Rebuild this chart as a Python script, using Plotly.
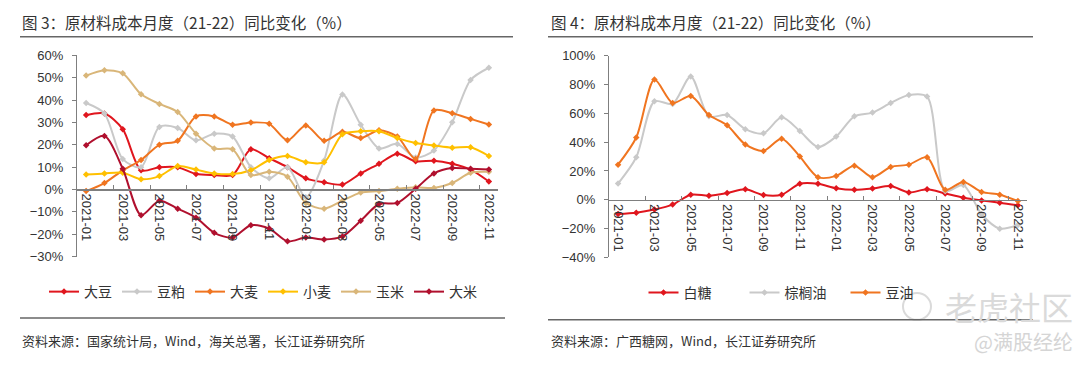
import plotly.graph_objects as go

months = ["2021-01", "2021-02", "2021-03", "2021-04", "2021-05", "2021-06", "2021-07", "2021-08",
          "2021-09", "2021-10", "2021-11", "2021-12", "2022-01", "2022-02", "2022-03", "2022-04",
          "2022-05", "2022-06", "2022-07", "2022-08", "2022-09", "2022-10", "2022-11"]
tick_labels = months[::2]

# Left chart (%)
soybean = [33.3, 34, 27, 8.6, 10, 10, 6.9, 6.5, 6.5, 18, 14, 10, 5, 3.2, 2.2, 7.2, 11.5, 16, 12.6, 12.9, 11.5, 8.9, 3.6]
soymeal = [38.7, 34, 13.6, 10, 28, 27.5, 22, 25, 23.7, 10, 5, 10, -3.5, 13, 42.5, 29, 18.4, 20.4, 14.3, 17.5, 30.1, 49, 54.5]
barley = [-0.7, 2.9, 8.6, 13.2, 20, 21.8, 32.7, 32.7, 29, 30, 29.4, 22, 28.7, 21.8, 25.8, 23, 26.5, 23.7, 13.6, 35.4, 34.1, 31.6, 29.1]
wheat = [6.7, 7.2, 7.5, 4.6, 6, 10.5, 8.9, 7.2, 6.9, 8.6, 13.2, 15, 12.2, 12.2, 24.7, 26.1, 26.1, 23, 20.8, 19.7, 18.7, 18.9, 15]
corn = [51, 53.4, 52, 42.6, 38.3, 34.7, 25, 18.4, 18, 6.5, 7.9, 5.7, -6, -8.6, -5, -1.4, -0.7, 0.3, 1, 0.7, 2.9, 7.5, 7.9]
rice = [19.8, 24, 9.3, -11.5, -5, -8.6, -12.6, -19.4, -21.5, -16, -17.5, -23.2, -21.5, -22.4, -21, -14, -6.5, -6, 0.3, 7.2, 9.6, 9.3, 9]

# Right chart (%)
sugar = [-9.8, -8.9, -6.7, -3.3, 3.5, 2.9, 4.7, 7.3, 3.3, 3.5, 11.1, 11.1, 8, 6.9, 7.8, 9.5, 5.1, 7.3, 4.4, 1.5, -0.4, -2, -3.8]
palm_oil = [11.3, 29.5, 68.3, 66.5, 85.6, 57.9, 58.8, 49, 46.1, 57.2, 47.7, 36.6, 43.9, 57.9, 60.5, 67.2, 72.7, 71.6, 6.2, 10.2, -10, -20, -17.5]
soy_oil = [24.4, 43.2, 83.4, 67.2, 72, 58.8, 51.7, 38.4, 33.9, 42.4, 30, 15.7, 16.6, 23.7, 15.7, 22.8, 24.4, 29.5, 6.9, 12.4, 5.5, 3.5, -0.9]

left_series = [("大豆", soybean, "#E0161E"), ("豆粕", soymeal, "#C9C9C9"), ("大麦", barley, "#F07520"),
               ("小麦", wheat, "#FFC000"), ("玉米", corn, "#D9B679"), ("大米", rice, "#B0102E")]
right_series = [("白糖", sugar, "#E0161E"), ("棕榈油", palm_oil, "#C9C9C9"), ("豆油", soy_oil, "#F07520")]

W, H = 1080, 372
FONT = "Liberation Sans, Arial, Noto Sans CJK SC, sans-serif"
CJK = "Noto Sans CJK SC, Liberation Sans, sans-serif"
TXT = "#333333"
AX = "#7f7f7f"

fig = go.Figure()
for name, vals, col in left_series:
    fig.add_trace(go.Scatter(x=months, y=vals, name=name, mode="lines+markers",
                             line=dict(color=col, width=2, shape="spline", smoothing=0.8),
                             marker=dict(symbol="diamond", size=5, color=col),
                             xaxis="x", yaxis="y", legend="legend"))
for name, vals, col in right_series:
    fig.add_trace(go.Scatter(x=months, y=vals, name=name, mode="lines+markers",
                             line=dict(color=col, width=2, shape="spline", smoothing=0.8),
                             marker=dict(symbol="diamond", size=5, color=col),
                             xaxis="x2", yaxis="y2", legend="legend2"))

def py(px):
    return 1 - px / H

ly_dom = [py(260), py(50.5)]
ry_dom = [py(261), py(50.7)]
l_zero = ly_dom[0] + (30 / 90) * (ly_dom[1] - ly_dom[0])
r_zero = ry_dom[0] + (40 / 140) * (ry_dom[1] - ry_dom[0])

xcommon = dict(type="category", categoryorder="array", categoryarray=months,
               range=[-0.5, 22.5], tickmode="array", tickvals=tick_labels, ticktext=tick_labels,
               tickangle=90, tickson="boundaries", ticks="inside", ticklen=4, tickcolor=AX,
               showline=True, linecolor=AX, linewidth=1.5, showgrid=False, zeroline=False,
               tickfont=dict(family=FONT, size=13, color=TXT), anchor="free")
ycommon = dict(showline=True, linecolor=AX, linewidth=1, ticks="outside", ticklen=4, tickcolor=AX,
               showgrid=False, zeroline=False, ticksuffix="%",
               tickfont=dict(family=FONT, size=13, color=TXT), ticklabelstandoff=6)

fig.update_layout(
    width=W, height=H, margin=dict(l=0, r=0, t=0, b=0),
    paper_bgcolor="white", plot_bgcolor="white", showlegend=True, hovermode=False,
    xaxis=dict(domain=[77 / W, 498 / W], position=l_zero, **xcommon),
    yaxis=dict(domain=ly_dom, range=[-30, 60], dtick=10, anchor="x", **ycommon),
    xaxis2=dict(domain=[609 / W, 1027 / W], position=r_zero, **xcommon),
    yaxis2=dict(domain=ry_dom, range=[-40, 100], dtick=20, anchor="x2", **ycommon),
    legend=dict(orientation="h", x=263 / W, y=py(297), xanchor="center", yanchor="middle",
                font=dict(family=CJK, size=14, color=TXT), bgcolor="rgba(0,0,0,0)"),
    legend2=dict(orientation="h", x=795 / W, y=py(298), xanchor="center", yanchor="middle",
                 font=dict(family=CJK, size=14, color=TXT), bgcolor="rgba(0,0,0,0)",
                 entrywidth=56),
)

annots = [
    dict(text="图 3：原材料成本月度（21-22）同比变化（%）", x=20 / W, y=py(16)),
    dict(text="图 4：原材料成本月度（21-22）同比变化（%）", x=549 / W, y=py(16)),
    dict(text="资料来源：国家统计局，Wind，海关总署，长江证券研究所", x=20 / W, y=py(348), size=13),
    dict(text="资料来源：广西糖网，Wind，长江证券研究所", x=549 / W, y=py(348), size=13),
]
for a in annots:
    fig.add_annotation(text=a["text"], x=a["x"], y=a["y"], xref="paper", yref="paper",
                       xanchor="left", yanchor="middle", showarrow=False,
                       font=dict(family=CJK, size=a.get("size", 15.5), color=TXT))

# watermarks
fig.add_annotation(text="老虎社区", x=1075 / W, y=py(312), xref="paper", yref="paper",
                   xanchor="right", yanchor="middle", showarrow=False,
                   font=dict(family=CJK, size=32, color="#DADADA"))
fig.add_annotation(text="@满股经纶", x=1075 / W, y=py(349), xref="paper", yref="paper",
                   xanchor="right", yanchor="middle", showarrow=False,
                   font=dict(family=CJK, size=20, color="#D5D5D5"))
fig.add_shape(type="circle", xref="paper", yref="paper", x0=903 / W, x1=931 / W,
              y0=py(326), y1=py(298), line=dict(color="#DADADA", width=2))

for x0, x1, yy in [(20, 513, 31), (548, 1033, 31), (20, 505, 324), (548, 1033, 326)]:
    fig.add_shape(type="line", xref="paper", yref="paper", x0=x0 / W, x1=x1 / W,
                  y0=py(yy), y1=py(yy), line=dict(color="#666666", width=1.5))

fig.write_html("out.html", config={"displayModeBar": False, "staticPlot": True},
               post_script="document.body.style.margin='0px';document.body.style.overflow='hidden';")
